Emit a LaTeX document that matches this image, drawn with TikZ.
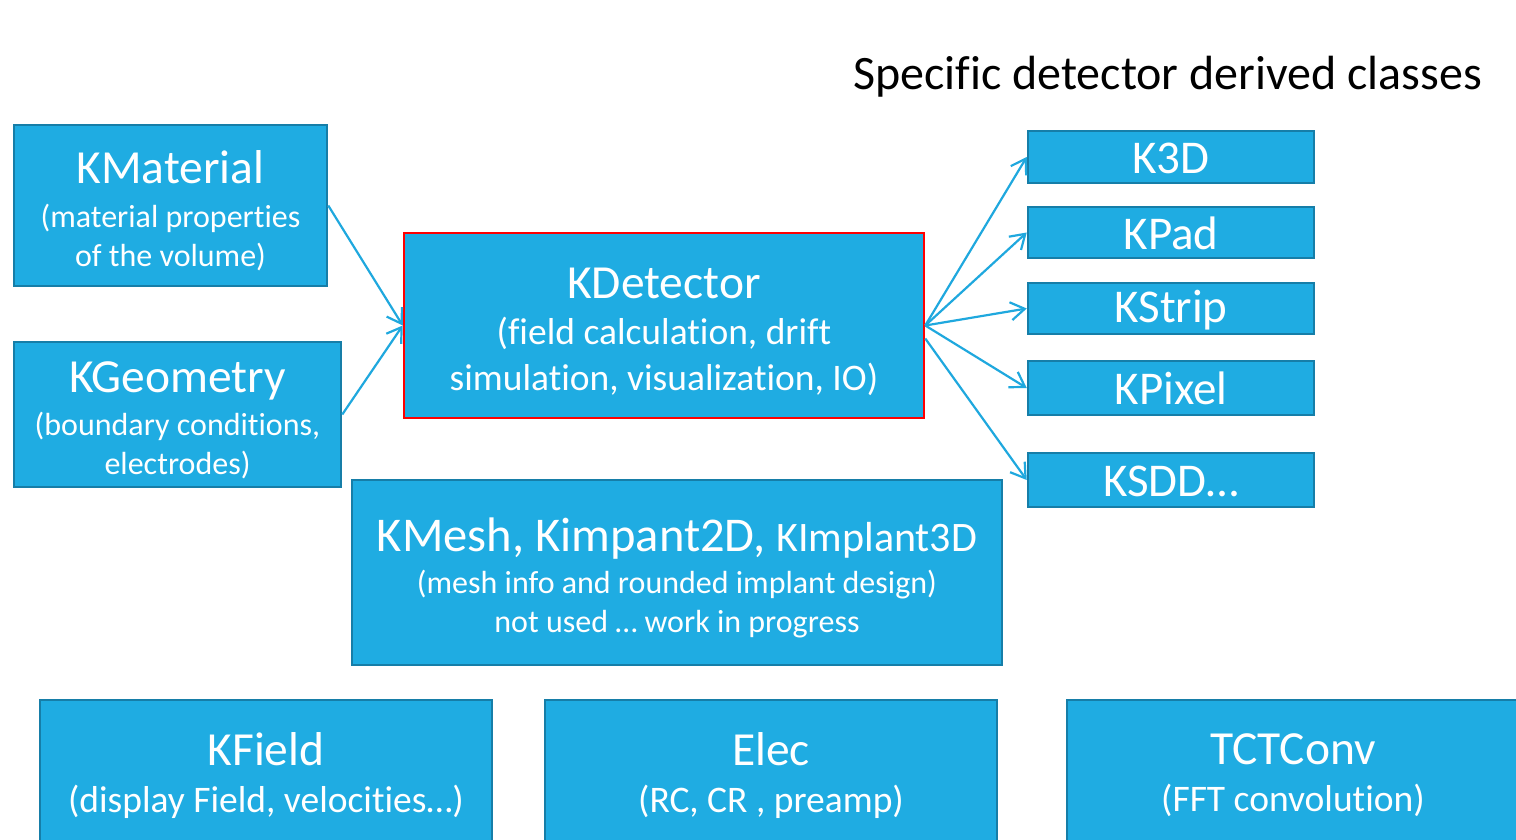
\documentclass[tikz,border=0pt]{standalone}
\usepackage{fontspec}
\setmainfont[Ligatures={NoCommon}]{Carlito}
\usetikzlibrary{arrows.meta,calc}
\definecolor{boxfill}{RGB}{31,172,226}
\definecolor{boxline}{RGB}{22,126,168}
\definecolor{arrowc}{RGB}{31,168,222}
\tikzset{
  cbox/.style={draw=boxline, line width=2.5pt, fill=boxfill, text=white, align=center, inner sep=0pt, rectangle},
  redbox/.style={cbox, draw=red},
  conn/.style={draw=arrowc, line width=2.2pt, -{Straight Barb[length=14pt,width=18pt]}},
  subf/.style={font=\fontsize{32}{39}\selectfont},
  rbox/.style={cbox, font=\fontsize{47}{47}\selectfont, minimum width=286pt},
  bbox/.style={cbox, font=\fontsize{37.5}{47}\selectfont, minimum width=452pt, minimum height=160pt},
}
\newcommand{\ttl}[1]{{\fontsize{47.5}{47.5}\selectfont #1}}
\newcommand{\up}[1]{\rule{0pt}{#1}}
\newcommand{\dnd}[1]{\rule[-#1]{0pt}{0pt}}
\begin{document}
\begin{tikzpicture}[x=1pt,y=-1pt]
\useasboundingbox (0,0) rectangle (1516,840);
\clip (0,0) rectangle (1516,840);

\node[anchor=base west, font=\fontsize{48}{48}\selectfont, inner sep=0pt] (title) at (853,90) {Specific detector derived classes};

\node[cbox, subf, minimum width=313pt, minimum height=161pt] (kmat) at (170.5,205.5)
  {\up{43pt}\ttl{KMaterial}\\[5pt](material properties\\of the volume)};
\node[cbox, subf, minimum width=327pt, minimum height=145pt] (kgeo) at (177.5,414.5)
  {\up{43pt}\ttl{KGeometry}\\[4pt](boundary conditions,\\electrodes)};
\node[redbox, font=\fontsize{37.5}{46}\selectfont, minimum width=520pt, minimum height=185pt] (kdet) at (664,325.5)
  {\up{44pt}\ttl{KDetector}\\[0pt](field calculation, drift\\simulation, visualization, IO)};

\node[rbox, minimum height=52pt] (k3d) at (1171,157) {\up{34pt}K3D};
\node[rbox, minimum height=51pt] (kpad) at (1171,232.5) {\up{34pt}KPad};
\node[rbox, minimum height=51pt] (kstrip) at (1171,308.5) {\up{36pt}KStrip};
\node[rbox, minimum height=54pt] (kpixel) at (1171,388) {\up{34pt}KPixel};
\node[rbox, minimum height=54pt] (ksdd) at (1171,480) {\up{34pt}KSDD\ldots};

\node[cbox, subf, minimum width=650pt, minimum height=185pt] (kmesh) at (677,572.5)
  {\up{45pt}{\fontsize{48.5}{48.5}\selectfont KMesh, Kimpant2D, }{\fontsize{42}{42}\selectfont KImplant3D}\\[3pt](mesh info and rounded implant design)\\not used \ldots\ work in progress};

\node[bbox] (kfield) at (266,780) {\ttl{KField}\\(display Field, velocities\ldots)\dnd{14pt}};
\node[bbox] (elec) at (771,780) {\ttl{Elec}\\(RC, CR , preamp)\dnd{14pt}};
\node[bbox] (tct) at (1293,780) {\ttl{TCTConv}\\(FFT convolution)\dnd{14pt}};

\draw[conn] (kmat.east) -- (kdet.west);
\draw[conn] (kgeo.east) -- (kdet.west);
\draw[conn] (kdet.east) -- (k3d.west);
\draw[conn] (kdet.east) -- (kpad.west);
\draw[conn] (kdet.east) -- (kstrip.west);
\draw[conn] (kdet.east) -- (kpixel.west);
\draw[conn] ($(kdet.east)+(0,13)$) -- (ksdd.west);
\end{tikzpicture}
\end{document}
